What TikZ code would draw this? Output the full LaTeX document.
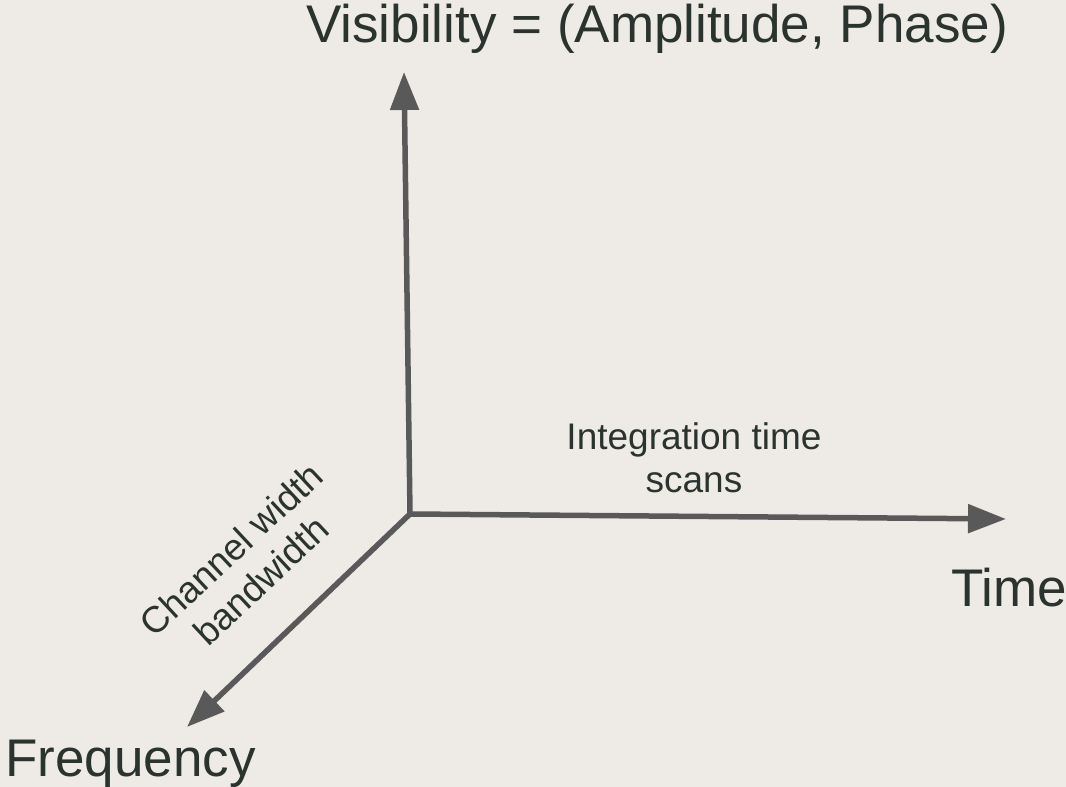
\documentclass[tikz,border=0pt]{standalone}
\usepackage{fontspec}
\setmainfont{Liberation Sans}
\usetikzlibrary{arrows.meta}
\definecolor{bgcol}{HTML}{EEEBE7}
\definecolor{axiscol}{HTML}{595959}
\definecolor{textcol}{HTML}{2A332E}

\begin{document}
\begin{tikzpicture}[x=1pt, y=1pt, >={Triangle[width=28pt, length=38pt]},
	axis/.style={->, line width=5.5pt, draw=axiscol},
	biglabel/.style={text=textcol, inner sep=0pt, font=\fontsize{53}{60}\selectfont},
	smalllabel/.style={text=textcol, inner sep=0pt, align=center, font=\fontsize{37}{43}\selectfont}]
	\fill [bgcol] (0,0) rectangle (1066,787);
	\useasboundingbox (0,0) rectangle (1066,787);
	\coordinate (O) at (410,273);
	\coordinate (vis) at (404,715);
	\coordinate (time) at (1006,268);
	\coordinate (freq) at (187,60);
	\draw [axis] (O) -- (vis);
	\draw [axis] (O) -- (time);
	\draw [axis] (O) -- (freq);
	\node [biglabel, anchor=base] (vislabel) at (657,744) {Visibility = (Amplitude, Phase)};
	\node [biglabel, anchor=base west] (timelabel) at (951,180) {Time};
	\node [biglabel, anchor=base west] (freqlabel) at (5,10) {Frequency};
	\node [smalllabel, anchor=base] (inttime) at (694,294) {Integration time\\scans};
	\node [smalllabel, rotate=43] (chanwidth) at (246,222) {Channel width\\bandwidth};
\end{tikzpicture}
\end{document}
